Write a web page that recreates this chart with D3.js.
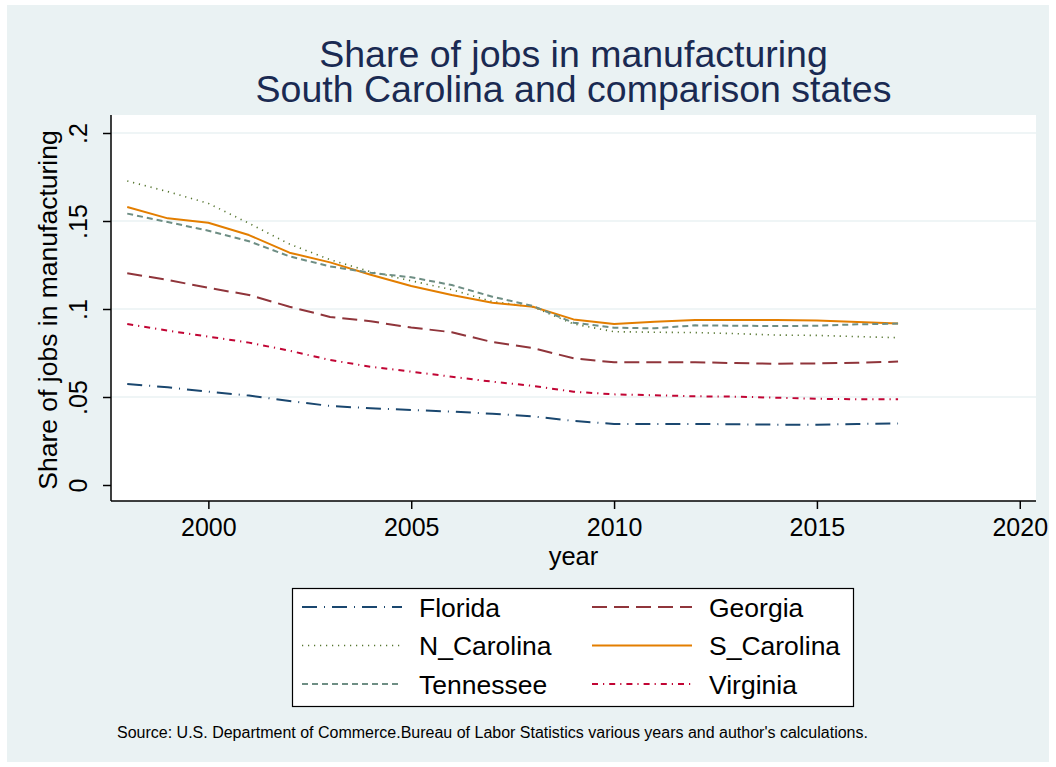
<!DOCTYPE html>
<html>
<head>
<meta charset="utf-8">
<script src="https://cdn.jsdelivr.net/npm/d3@7"></script>
<style>
  body { margin: 0; background: #ffffff; }
  svg { display: block; font-family: "Liberation Sans", Arial, sans-serif; }
</style>
</head>
<body>
<svg id="chart" width="1056" height="767"></svg>
<script>
const years = [1998,1999,2000,2001,2002,2003,2004,2005,2006,2007,2008,2009,2010,2011,2012,2013,2014,2015,2016,2017];
const florida   = [.0574,.0555,.0530,.0508,.0477,.0449,.0436,.0426,.0417,.0405,.0390,.0364,.0347,.0347,.0347,.0345,.0343,.0343,.0347,.0350];
const georgia   = [.1203,.1165,.1120,.1080,.1013,.0955,.0930,.0895,.0868,.0812,.0778,.0720,.0697,.0697,.0697,.0693,.0689,.0691,.0695,.0701];
const nCarolina = [.1727,.1667,.1600,.1487,.1369,.1280,.1212,.1160,.1110,.1042,.1012,.0915,.0871,.0868,.0866,.0860,.0852,.0850,.0843,.0837];
const sCarolina = [.1580,.1515,.1490,.1420,.1320,.1265,.1195,.1131,.1080,.1036,.1013,.0941,.0915,.0928,.0937,.0938,.0937,.0935,.0926,.0917];
const tennessee = [.1542,.1494,.1445,.1385,.1299,.1242,.1206,.1180,.1136,.1070,.1017,.0922,.0894,.0890,.0907,.0905,.0903,.0905,.0913,.0917];
const virginia  = [.0915,.0877,.0843,.0809,.0763,.0710,.0672,.0644,.0615,.0587,.0563,.0530,.0515,.0510,.0504,.0502,.0496,.0490,.0487,.0487];

const seriesNames = ["Florida","Georgia","N_Carolina","S_Carolina","Tennessee","Virginia"];
const xTicks = [2000,2005,2010,2015,2020];
const yTicks = [0,.05,.1,.15,.2];
const yTickLabels = ["0",".05",".1",".15",".2"];

const titleLines = ["Share of jobs in manufacturing","South Carolina and comparison states"];
const noteText = "Source: U.S. Department of Commerce.Bureau of Labor Statistics various years and author's calculations.";

const seriesData = [florida, georgia, nCarolina, sCarolina, tennessee, virginia];
const styles = {
  "Florida":    {color:"#1a476f", dash:"15,7,1,7"},
  "Georgia":    {color:"#90353b", dash:"15,7"},
  "N_Carolina": {color:"#55752f", dash:"1.2,4.8", width:1.6},
  "S_Carolina": {color:"#e37e00", dash:null},
  "Tennessee":  {color:"#6e8e84", dash:"6,4"},
  "Virginia":   {color:"#c10534", dash:"6,5,1.2,5"}
};

const svg = d3.select("#chart");
const W = 1056, H = 767;
const plot = {left:111, right:1036, top:115, bottom:501};

// backgrounds
svg.append("rect").attr("x",0).attr("y",0).attr("width",W).attr("height",H).attr("fill","#ffffff");
svg.append("rect").attr("x",7).attr("y",5).attr("width",W-14).attr("height",H-10).attr("fill","#eaf2f3");
svg.append("rect").attr("x",plot.left).attr("y",plot.top)
  .attr("width",plot.right-plot.left).attr("height",plot.bottom-plot.top).attr("fill","#ffffff");

const x = d3.scaleLinear().domain([1997.6, 2020.4]).range([plot.left, plot.right]);
const y = d3.scaleLinear().domain([0, .2]).range([485, 133]);

// gridlines
svg.append("g").selectAll("line").data(yTicks.filter(d => d > 0)).join("line")
  .attr("x1",plot.left).attr("x2",plot.right)
  .attr("y1",d=>y(d)).attr("y2",d=>y(d))
  .attr("stroke","#eaf2f3").attr("stroke-width",1.6);

// lines
const line = d3.line().x((d,i)=>x(years[i])).y(d=>y(d));
seriesNames.forEach((name,k)=>{
  const s = styles[name];
  svg.append("path").datum(seriesData[k])
    .attr("d", line)
    .attr("fill","none")
    .attr("stroke", s.color)
    .attr("stroke-width", s.width || 2)
    .attr("stroke-dasharray", s.dash)
    .attr("stroke-linejoin","round");
});

// axes
const yAxis = d3.axisLeft(y).tickValues(yTicks).tickFormat((d,i)=>yTickLabels[i]).tickSize(8).tickPadding(4);
const gy = svg.append("g").attr("transform",`translate(${plot.left},0)`).call(yAxis);
gy.select(".domain").attr("d",`M0,${plot.top}V${plot.bottom}`).attr("stroke","#000").attr("stroke-width",1.5);
gy.selectAll(".tick line").attr("stroke","#000").attr("stroke-width",1.5);
gy.selectAll(".tick text")
  .attr("font-size",25).attr("fill","#000")
  .attr("text-anchor","middle")
  .attr("x",null).attr("dy",null)
  .attr("transform","translate(-24,0) rotate(-90)");

const xAxis = d3.axisBottom(x).tickValues(xTicks).tickFormat(d3.format("d")).tickSize(8).tickPadding(8);
const gx = svg.append("g").attr("transform",`translate(0,${plot.bottom})`).call(xAxis);
gx.select(".domain").attr("d",`M${plot.left},0H${plot.right}`).attr("stroke","#000").attr("stroke-width",1.5);
gx.selectAll(".tick line").attr("stroke","#000").attr("stroke-width",1.5);
gx.selectAll(".tick text").attr("font-size",25).attr("fill","#000").attr("dy",null).attr("y",35);

// axis titles
svg.append("text").attr("x",573.5).attr("y",565).attr("text-anchor","middle")
  .attr("font-size",25.5).attr("fill","#000").text("year");
svg.append("text").attr("transform",`translate(57,${(plot.top+plot.bottom)/2 + 2}) rotate(-90)`)
  .attr("text-anchor","middle").attr("font-size",26.5).attr("fill","#000")
  .text("Share of jobs in manufacturing");

// title
svg.append("g").selectAll("text").data(titleLines).join("text")
  .attr("x",573.5).attr("y",(d,i)=>67+i*35)
  .attr("text-anchor","middle").attr("font-size",37.5).attr("fill","#1a2a52")
  .text(d=>d);

// legend
const lg = svg.append("g");
lg.append("rect").attr("x",292.5).attr("y",588.5).attr("width",561).attr("height",118)
  .attr("fill","#ffffff").attr("stroke","#000").attr("stroke-width",1.2);
const legendOrder = ["Florida","Georgia","N_Carolina","S_Carolina","Tennessee","Virginia"];
legendOrder.forEach((name,i)=>{
  const col = i % 2, row = Math.floor(i/2);
  const lx = col === 0 ? 302 : 592;
  const ly = 607 + row*38.5;
  const s = styles[name];
  lg.append("line").attr("x1",lx).attr("x2",lx+100).attr("y1",ly).attr("y2",ly)
    .attr("stroke",s.color).attr("stroke-width",s.width || 2).attr("stroke-dasharray",s.dash);
  lg.append("text").attr("x",lx+117).attr("y",ly+9.5).attr("font-size",26.5).attr("fill","#000").text(name);
});

// note
svg.append("text").attr("x",117).attr("y",738).attr("font-size",16).attr("fill","#000").text(noteText);
</script>
</body>
</html>
